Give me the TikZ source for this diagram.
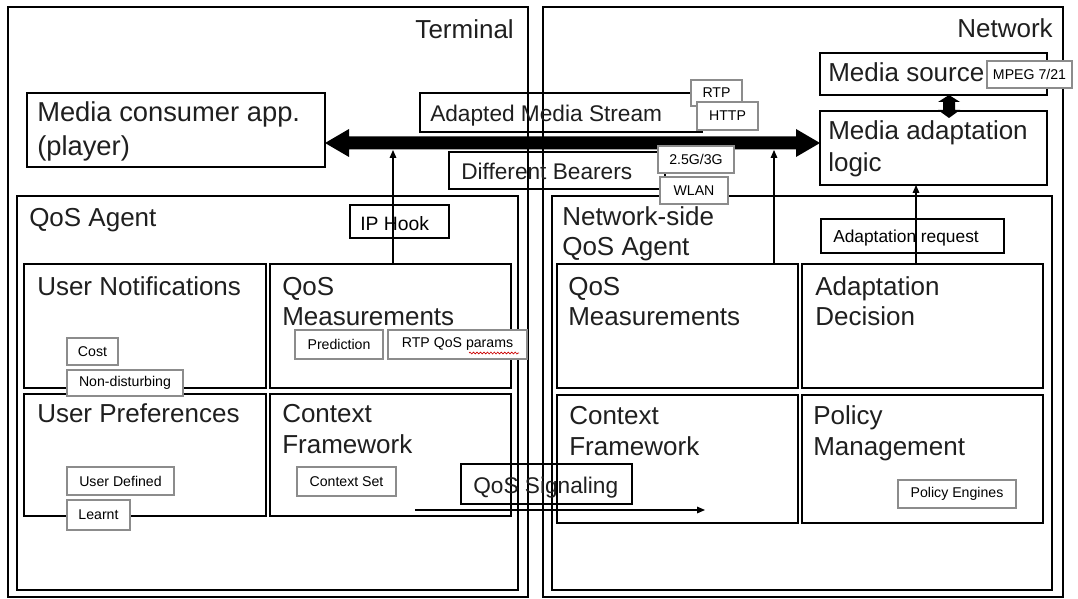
\documentclass[tikz,border=0pt]{standalone}
\usepackage{fontspec}
\setmainfont{Liberation Sans}
\usetikzlibrary{arrows.meta,decorations.pathmorphing,calc}
\tikzset{
  x=0.75pt, y=-0.75pt,
  bx/.style={draw=black, line width=0.9pt, inner sep=0pt, outer sep=0pt},
  tag/.style={draw=black!45, fill=white, line width=0.8pt, inner sep=0pt, outer sep=0pt,
    font=\fontsize{10.6}{12}\selectfont},
  big/.style={font=\fontsize{19.5}{23}\selectfont, text=black!88, anchor=base west, inner sep=0pt},
  bigr/.style={font=\fontsize{19.5}{23}\selectfont, text=black!88, anchor=base east, inner sep=0pt},
  mid/.style={font=\fontsize{17}{20}\selectfont, text=black!88, anchor=base west, inner sep=0pt},
  sml/.style={font=\fontsize{14.5}{17}\selectfont, anchor=base west, inner sep=0pt},
  smr/.style={font=\fontsize{13}{15}\selectfont, anchor=base west, inner sep=0pt},
  thinarrow/.style={draw=black, line width=0.8pt, -{Triangle[length=6pt,width=5pt]}}
}
\newcommand\bigbox[5]{\node[bx, anchor=north west, minimum width={(#4-#2)*0.75pt}, minimum height={(#5-#3)*0.75pt}] (#1) at (#2,#3) {};}
\newcommand\tagbox[6]{\node[tag, anchor=north west, minimum width={(#4-#2)*0.75pt}, minimum height={(#5-#3)*0.75pt}] (#1) at (#2,#3) {#6};}
\begin{document}
\begin{tikzpicture}
\useasboundingbox (0,0) rectangle (1078,599);
\fill[white] (0,0) rectangle (1078,599);

% outer boxes
\bigbox{term}{8}{7}{528}{597}
\bigbox{netw}{543}{7}{1063}{597}
\node[bigr] (termT) at (514,39) {Terminal};
\node[bigr] (netwT) at (1053,38) {Network};

% top row terminal
\bigbox{mca}{27}{93}{325}{167}
\node[big, font=\fontsize{20.5}{24}\selectfont] (mcaA) at (37,122) {Media consumer app.};
\node[big, font=\fontsize{20.5}{24}\selectfont] (mcaB) at (37,156) {(player)};

% stream labels
\bigbox{ams}{420}{93}{702}{132}
\node[mid] (amsT) at (430,122) {Adapted Media Stream};
\bigbox{dbr}{449}{152}{665}{189}
\node[mid] (dbrT) at (461,180) {Different Bearers};

% network top
\bigbox{msrc}{820}{53}{1047}{95}
\node[big] (msrcT) at (828,82) {Media source};
\bigbox{mal}{820}{111}{1047}{185}
\node[big] (malA) at (828,140) {Media adaptation};
\node[big] (malB) at (828,172) {logic};

% terminal QoS agent
\bigbox{qaT}{17}{196}{518}{590}
\node[big] (qaTT) at (29,226) {QoS Agent};
\bigbox{ipk}{350}{205}{449}{238}
\node[sml] (ipkT) at (360,230) {IP Hook};
\bigbox{unT}{24}{264}{266}{388}
\node[big] (unTT) at (37,295) {User Notifications};
\bigbox{qmT}{270}{264}{511}{388}
\node[big] (qmTA) at (282,295) {QoS};
\node[big] (qmTB) at (282,325) {Measurements};
\bigbox{upT}{24}{394}{266}{516}
\node[big] (upTT) at (37,422) {User Preferences};
\bigbox{cfT}{270}{394}{511}{516}
\node[big] (cfTA) at (282,422) {Context};
\node[big] (cfTB) at (282,453) {Framework};

% network QoS agent
\bigbox{qaN}{552}{196}{1052}{590}
\node[big] (qaNA) at (562,225) {Network-side};
\node[big] (qaNB) at (562,255) {QoS Agent};
\bigbox{areq}{821}{219}{1004}{253}
\node[smr] (areqT) at (833,243) {Adaptation request};
\bigbox{qmN}{557}{264}{798}{388}
\node[big] (qmNA) at (568,295) {QoS};
\node[big] (qmNB) at (568,325) {Measurements};
\bigbox{adN}{802}{264}{1043}{388}
\node[big] (adNA) at (815,295) {Adaptation};
\node[big] (adNB) at (815,325) {Decision};
\bigbox{cfN}{557}{395}{798}{523}
\node[big] (cfNA) at (569,424) {Context};
\node[big] (cfNB) at (569,455) {Framework};
\bigbox{pmN}{802}{395}{1043}{523}
\node[big] (pmNA) at (813,424) {Policy};
\node[big] (pmNB) at (813,455) {Management};

% QoS signaling
\bigbox{qsig}{461}{464}{632}{504}
\node[mid] (qsigT) at (473,493) {QoS Signaling};

% big double arrow
\coordinate (bl) at (325,143);
\coordinate (br) at (820,143);
\fill[black] (bl) -- (349,129) -- (349,136.5) -- (796,136.5) -- (796,129) -- (br)
  -- (796,157) -- (796,149.5) -- (349,149.5) -- (349,157) -- cycle;

% small double arrow between media source and adaptation logic
\fill[black] (msrc.south -| 949,0) -- (960,102) -- (955,102) -- (955,110) -- (960,110)
  -- (949,118) -- (938,110) -- (943,110) -- (943,102) -- (938,102) -- cycle;

% thin arrows
\coordinate (a1) at (393,150);
\coordinate (a2) at (774,150);
\coordinate (a3) at (916,185);
\draw[thinarrow] (qmT.north -| a1) -- (a1);
\draw[thinarrow] (qmN.north -| a2) -- (a2);
\draw[thinarrow] (adN.north -| a3) -- (a3 |- mal.south);
\coordinate (qs1) at (415,510);
\coordinate (qs2) at (705,510);
\draw[thinarrow] (qs1) -- (qs2);

% tags
\tagbox{rtp}{691}{80}{742}{106}{RTP}
\tagbox{http}{697}{102}{758}{130}{HTTP}
\tagbox{g3}{658}{146}{734}{173}{2.5G/3G}
\tagbox{wlan}{660}{177}{728}{204}{WLAN}
\tagbox{mpeg}{987}{61}{1072}{88}{MPEG 7/21}
\tagbox{cost}{67}{338}{118}{365}{Cost}
\tagbox{nond}{67}{370}{183}{396}{Non-disturbing}
\tagbox{pred}{295}{330}{383}{359}{Prediction}
\tagbox{rtpq}{388}{330}{527}{359}{RTP QoS params}
\tagbox{udef}{67}{467}{174}{495}{User Defined}
\tagbox{lrnt}{67}{500}{130}{530}{Learnt}
\tagbox{cset}{297}{467}{396}{496}{Context Set}
\tagbox{peng}{898}{480}{1016}{508}{Policy Engines}

% spell-check squiggle
\draw[red!80!black, line width=0.5pt, decorate, decoration={snake, amplitude=0.7pt, segment length=2.6pt}]
  ($(rtpq.south east)+(-58,-6)$) -- ($(rtpq.south east)+(-8,-6)$);
\end{tikzpicture}
\end{document}
